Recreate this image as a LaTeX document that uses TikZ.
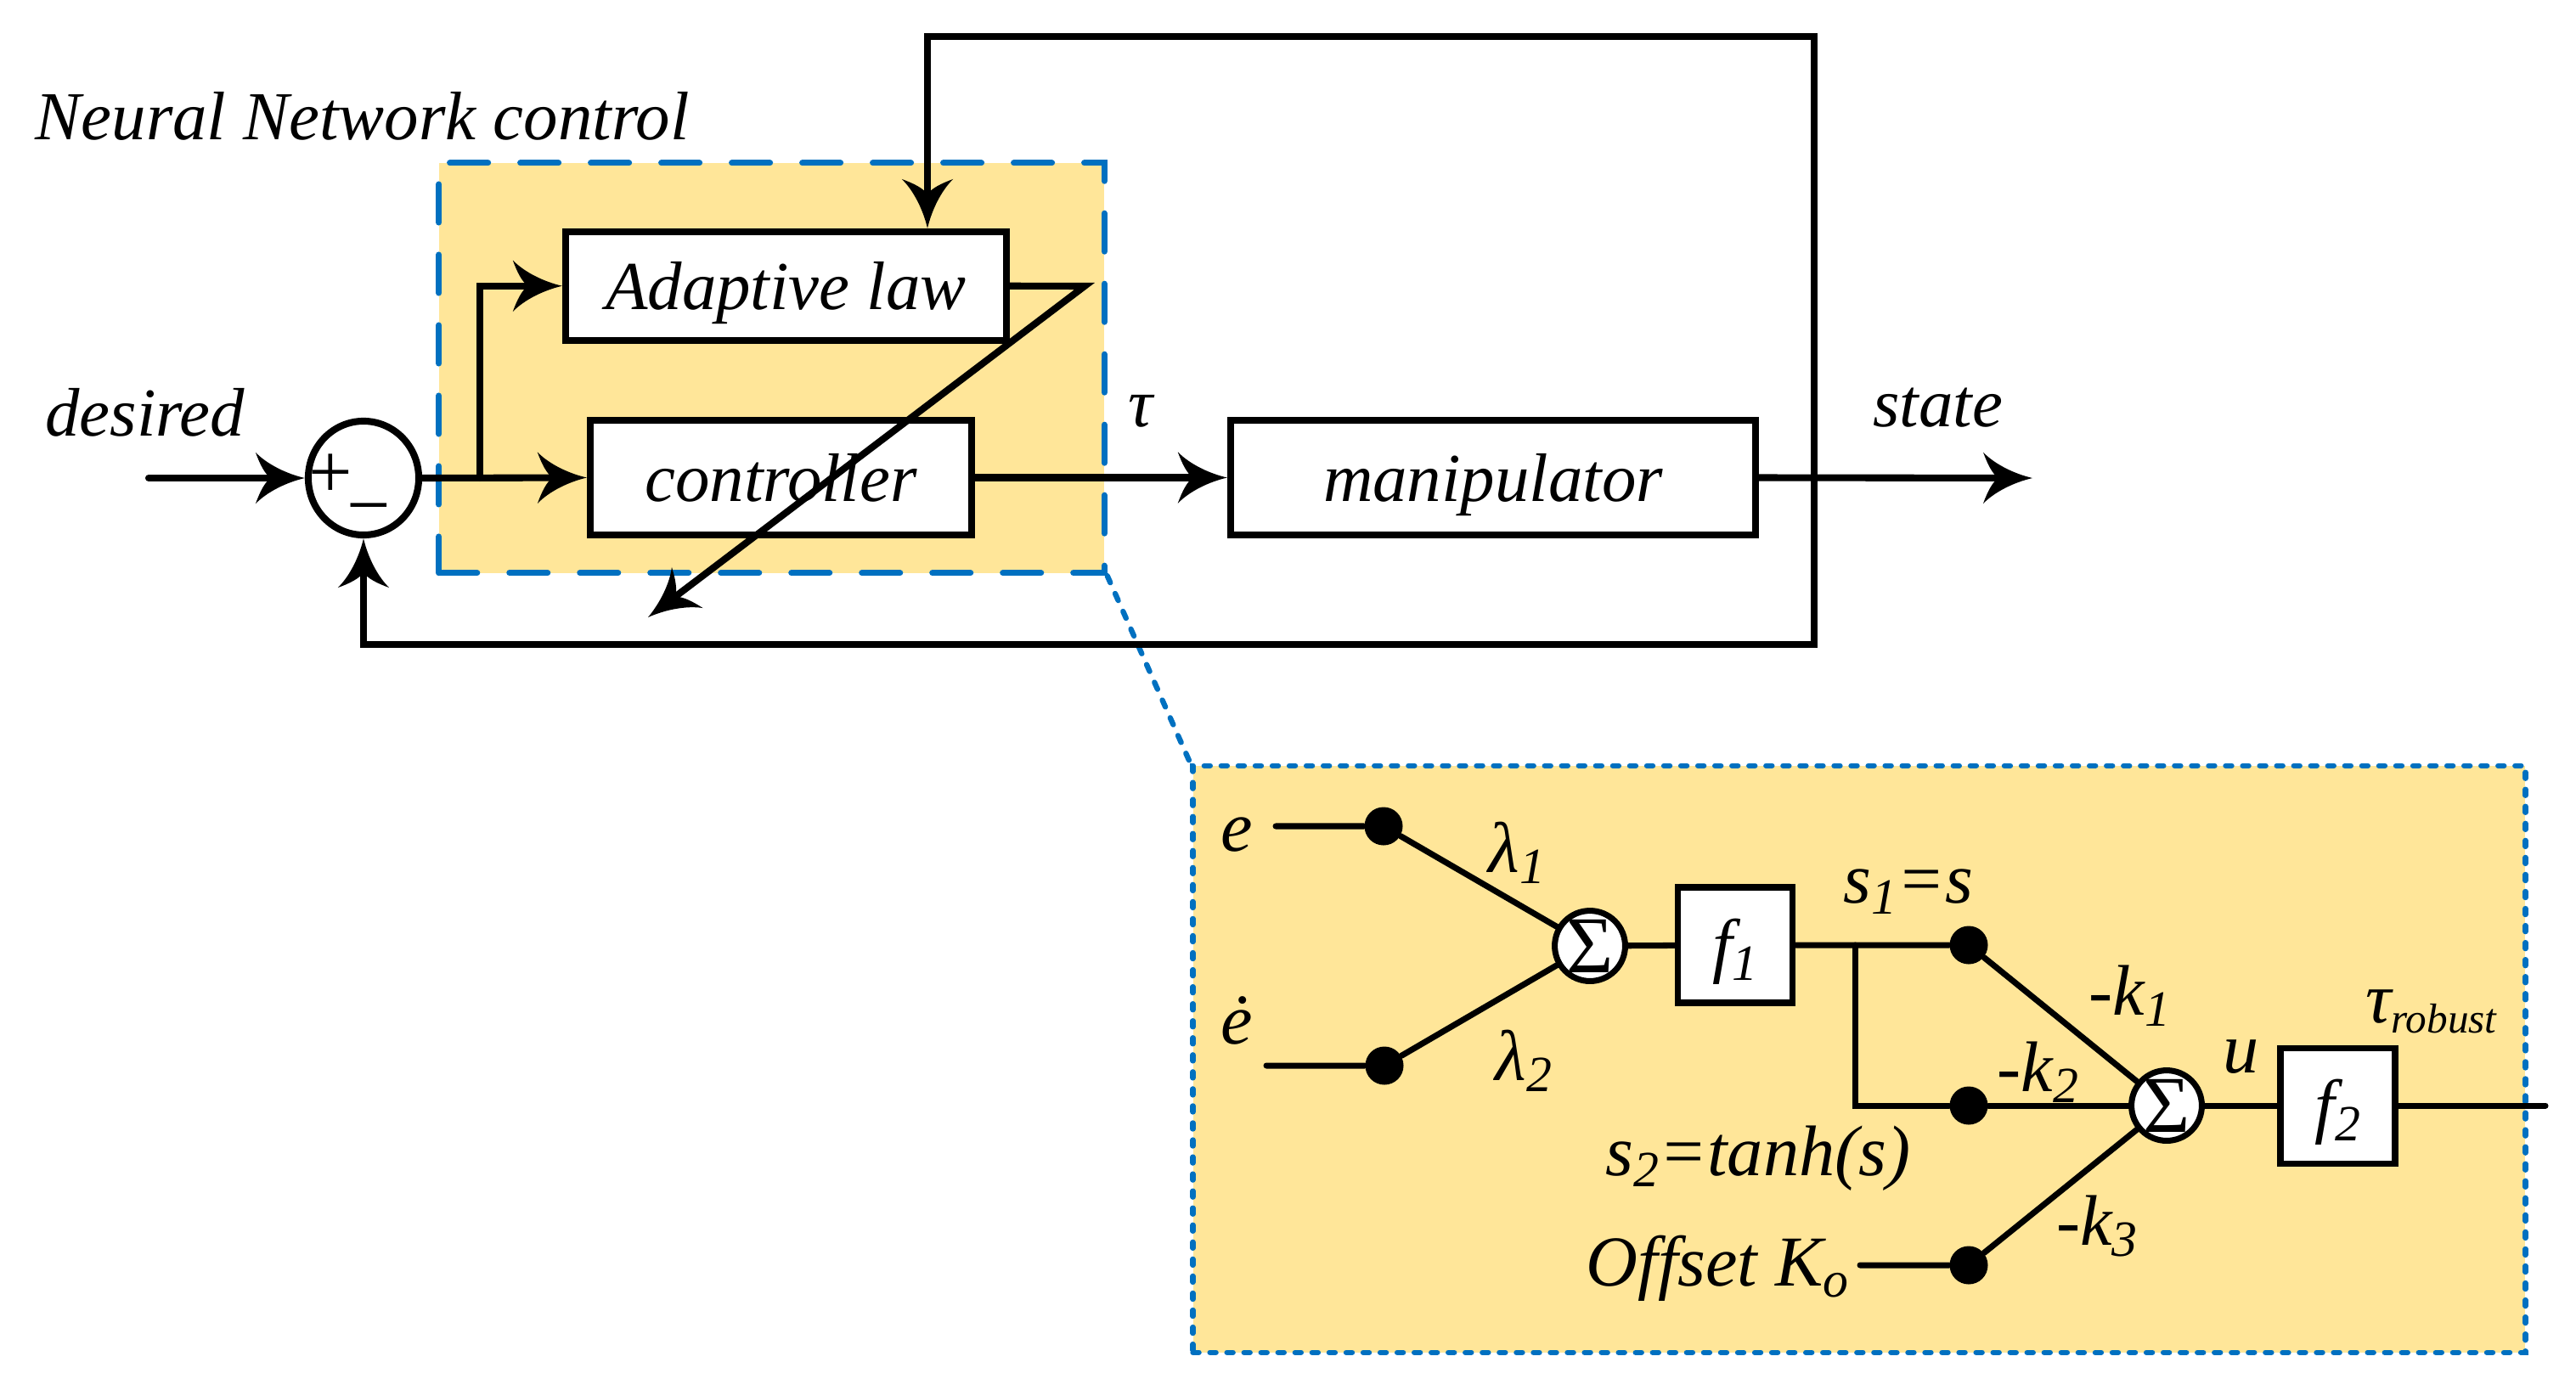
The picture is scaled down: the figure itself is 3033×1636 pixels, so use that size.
\documentclass[tikz,border=0pt]{standalone}
\usepackage{fontspec}
\setmainfont{Liberation Serif}
\usetikzlibrary{shapes.geometric,calc}
\definecolor{nblue}{HTML}{0070C0}
\definecolor{nyellow}{HTML}{FFE699}
\newcommand{\mysub}[1]{\raisebox{-3.7pt}{\fontsize{17}{17}\selectfont #1}}
\newcommand{\mysubr}[1]{\raisebox{-3.4pt}{\fontsize{14}{14}\selectfont #1}}
\pgfarrowsdeclare{cst}{cst}
{\pgfarrowsleftextend{-6.5pt}\pgfarrowsrightextend{10pt}}
{
  \pgfsetdash{}{0pt}
  \pgfsetmiterjoin
  \pgfpathmoveto{\pgfqpoint{10pt}{0pt}}
  \pgfpathcurveto{\pgfqpoint{4pt}{1.4pt}}{\pgfqpoint{-2.5pt}{4.5pt}}{\pgfqpoint{-6.5pt}{8.6pt}}
  \pgfpathcurveto{\pgfqpoint{-5pt}{4.5pt}}{\pgfqpoint{-3.5pt}{1.6pt}}{\pgfqpoint{-1.5pt}{0pt}}
  \pgfpathcurveto{\pgfqpoint{-3.5pt}{-1.6pt}}{\pgfqpoint{-5pt}{-4.5pt}}{\pgfqpoint{-6.5pt}{-8.6pt}}
  \pgfpathcurveto{\pgfqpoint{-2.5pt}{-4.5pt}}{\pgfqpoint{4pt}{-1.4pt}}{\pgfqpoint{10pt}{0pt}}
  \pgfpathclose
  \pgfusepathqfill
}
\begin{document}
\begin{tikzpicture}[x=0.01cm,y=-0.01cm,>=cst,
  lbl/.style={inner sep=0pt, font=\itshape\fontsize{23}{26}\selectfont},
  lblb/.style={inner sep=0pt, font=\itshape\fontsize{24}{27}\selectfont},
  blockbox/.style={draw, line width=2.3pt, fill=white, inner sep=0pt, text height=16pt, text depth=0pt, font=\itshape\fontsize{23}{26}\selectfont},
  fblock/.style={draw, line width=2.2pt, fill=white, inner sep=0pt, minimum width=1.35cm, minimum height=1.36cm, text height=16pt, text depth=0pt, font=\itshape\fontsize{24}{27}\selectfont},
  sigmanode/.style={circle, draw, line width=2pt, fill=white, minimum size=0.74cm, inner sep=0pt, font=\upshape\fontsize{27}{27}\selectfont},
  dotn/.style={circle, fill=black, inner sep=0pt, minimum size=0.45cm},
  signn/.style={inner sep=0pt, font=\upshape\fontsize{26}{26}\selectfont},
  nnbox/.style={draw=nblue, line width=2pt, dash pattern=on 12.8pt off 10.8pt, line cap=round, fill=nyellow, inner sep=0pt},
  detbox/.style={draw=nblue, line width=1.8pt, dash pattern=on 2pt off 3.7pt, line cap=round, fill=nyellow, inner sep=0pt},
  dotline/.style={draw=nblue, line width=1.8pt, dash pattern=on 2.5pt off 4pt, line cap=round},
  conn/.style={line width=2.3pt, line cap=round},
  lconn/.style={line width=2pt, line cap=round}
]
\useasboundingbox (0,0) rectangle (3033,1636);

% background boxes
\node[nnbox, minimum width=7.83cm, minimum height=4.825cm] (nnc) at (908.5,433.25) {};
\node[detbox, minimum width=15.68cm, minimum height=6.906cm] (det) at (2189,1247.3) {};
\draw[dotline] (nnc.south east) -- (det.north west);

% upper blocks
\node[blockbox, minimum width=5.19cm, minimum height=1.275cm] (adapt) at (925.5,336.75) {Adaptive law};
\node[blockbox, minimum width=4.49cm, minimum height=1.35cm] (ctrl) at (919.5,562.5) {controller};
\node[blockbox, minimum width=6.18cm, minimum height=1.35cm] (manip) at (1758,562.5) {manipulator};
\node[draw, ellipse, line width=2.3pt, minimum width=1.30cm, minimum height=1.34cm, inner sep=0pt] (sum) at (428,563) {};
\node[signn] (plus) at (389,561) {+};
\node[signn] (minus) at (434,609) {−};

% upper labels
\node[lbl, anchor=base west] (title) at (41,164) {Neural Network control};
\node[lbl, anchor=base west] (ldes) at (52.5,513) {desired};
\node[lbl, anchor=base west] (ltau) at (1328,502) {τ};
\node[lbl, anchor=base west] (lstate) at (2204.6,502.6) {state};

% upper connectors
\coordinate (inp) at (175,563);
\coordinate (br) at (565,563);
\coordinate (outp) at (2393,563);
\coordinate (tap) at (2136,563);
\coordinate (topR) at (2136,43);
\coordinate (botR) at (2136,759);
\coordinate (fbx) at (1092,43);
\coordinate (dg1) at (1277,337);
\coordinate (dg2) at (763,727);
\draw[conn,->] (inp) -- (sum.west);
\draw[conn,->] (sum.east) -- (ctrl.west);
\draw[conn,->] (br) |- (adapt.west);
\draw[conn,->] (ctrl.east) -- (manip.west);
\draw[conn,->] (manip.east) -- (outp);
\draw[conn,->] (tap) -- (topR) -- (fbx) -- (fbx |- adapt.north);
\draw[conn,->] (tap) -- (botR) -| (sum.south);
\draw[conn,->] (adapt.east) -- (dg1) -- (dg2);

% lower diagram nodes
\node[dotn] (d1) at (1629,973) {};
\node[dotn] (d2) at (1630,1255) {};
\node[dotn] (d3) at (2318,1113) {};
\node[dotn] (d4) at (2318,1302) {};
\node[dotn] (d5) at (2318,1490) {};
\node[sigmanode] (sg1) at (1872,1114) {Σ};
\node[sigmanode] (sg2) at (2551,1302) {Σ};
\node[fblock] (f1) at (2043,1113) {f\mysub{1}};
\node[fblock] (f2) at (2752.6,1302.5) {f\mysub{2}};

% lower labels
\node[lblb, anchor=base] (le) at (1456,1002) {e};
\node[lblb, anchor=base] (led) at (1456,1229) {ė};
\node[lblb, anchor=base west] (lam1) at (1752,1027) {λ\mysub{1}};
\node[lblb, anchor=base west] (lam2) at (1760,1272) {λ\mysub{2}};
\node[lblb, anchor=base west] (ls1) at (2170,1063) {s\mysub{1}=s};
\node[lblb, anchor=base west] (ls2) at (1890,1384.5) {s\mysub{2}=tanh(s)};
\node[lblb, anchor=base west] (loff) at (1867,1514.6) {Offset K\mysub{o}};
\node[lblb, anchor=base west] (lk1) at (2459,1195.7) {-k\mysub{1}};
\node[lblb, anchor=base west] (lk2) at (2351,1285) {-k\mysub{2}};
\node[lblb, anchor=base west] (lk3) at (2420.5,1466) {-k\mysub{3}};
\node[lblb, anchor=base west] (lu) at (2617,1263.6) {u};
\node[lblb, anchor=base west] (ltr) at (2784.5,1204.4) {τ\mysubr{robust}};

% lower connectors
\coordinate (ein) at (1502,973);
\coordinate (edin) at (1491,1255);
\coordinate (jn) at (2184,1113);
\coordinate (jn2) at (2184,1302);
\coordinate (offin) at (2190,1490);
\coordinate (fout) at (2997,1302);
\draw[lconn] (ein) -- (d1) -- (sg1);
\draw[lconn] (edin) -- (d2) -- (sg1);
\draw[lconn] (sg1) -- (f1);
\draw[lconn] (f1.east |- jn) -- (jn) -- (d3) -- (sg2);
\draw[lconn] (jn) -- (jn2) -- (d4) -- (sg2);
\draw[lconn] (offin) -- (d5) -- (sg2);
\draw[lconn] (sg2) -- (f2.west |- sg2);
\draw[lconn] (f2.east |- fout) -- (fout);
\end{tikzpicture}
\end{document}
